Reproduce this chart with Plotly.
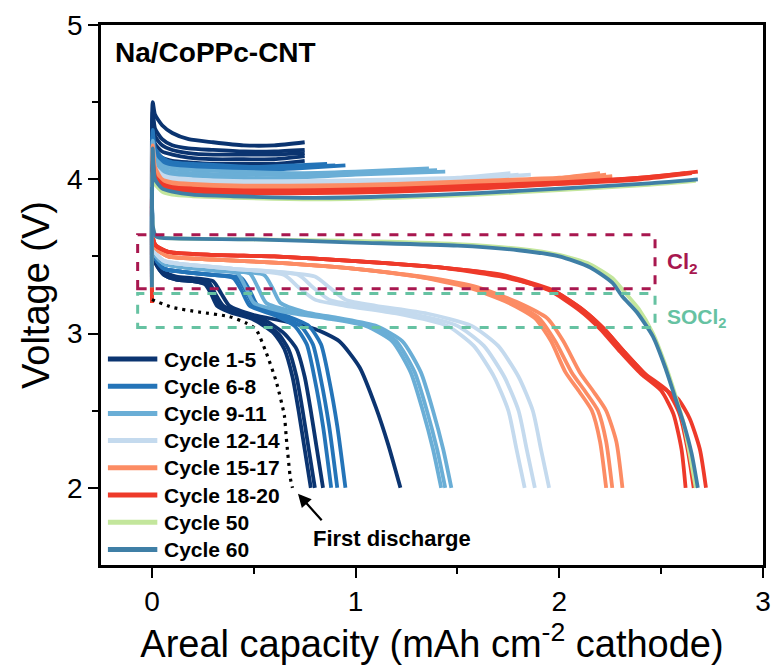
import plotly.graph_objects as go

# ---------------- data ----------------
group_names = ["Cycle 1-5", "Cycle 6-8", "Cycle 9-11", "Cycle 12-14",
               "Cycle 15-17", "Cycle 18-20", "Cycle 50", "Cycle 60"]
group_colors = ["#0b3470", "#2474b8", "#6aaed6", "#c4daee",
                "#fc8c64", "#ee3a2a", "#c3e69c", "#3f7fa6"]

# charge curves (capacity, voltage)
chg_1_5_x = [[0, 0.004, 0.015, 0.05, 0.10, 0.18, 0.30, 0.45, 0.60, 0.75]] * 5
chg_1_5_v = [[3.30, 4.50, 4.42, 4.35, 4.30, 4.26, 4.24, 4.22, 4.22, 4.24],
             [3.30, 4.44, 4.33, 4.26, 4.22, 4.20, 4.19, 4.18, 4.18, 4.19],
             [3.25, 4.40, 4.28, 4.22, 4.19, 4.17, 4.16, 4.16, 4.16, 4.17],
             [3.25, 4.36, 4.23, 4.18, 4.16, 4.14, 4.13, 4.13, 4.13, 4.15],
             [3.20, 4.30, 4.18, 4.14, 4.12, 4.11, 4.10, 4.10, 4.10, 4.12]]

chg_6_8_x = [[0, 0.004, 0.015, 0.05, 0.10, 0.20, 0.35, 0.50, 0.70, 0.86],
             [0, 0.004, 0.015, 0.05, 0.10, 0.20, 0.35, 0.50, 0.70, 0.90],
             [0, 0.004, 0.015, 0.05, 0.10, 0.20, 0.35, 0.50, 0.70, 0.95]]
chg_6_8_v = [[3.20, 4.32, 4.20, 4.14, 4.11, 4.10, 4.09, 4.08, 4.09, 4.10],
             [3.20, 4.28, 4.17, 4.12, 4.10, 4.09, 4.08, 4.07, 4.08, 4.09],
             [3.20, 4.25, 4.15, 4.11, 4.09, 4.08, 4.07, 4.06, 4.07, 4.09]]

chg_9_11_x = [[0, 0.004, 0.015, 0.05, 0.10, 0.20, 0.40, 0.70, 1.00, 1.36],
              [0, 0.004, 0.015, 0.05, 0.10, 0.20, 0.40, 0.70, 1.00, 1.40],
              [0, 0.004, 0.015, 0.05, 0.10, 0.20, 0.40, 0.70, 1.00, 1.44]]
chg_9_11_v = [[3.20, 4.25, 4.14, 4.09, 4.07, 4.06, 4.05, 4.04, 4.05, 4.07],
              [3.20, 4.22, 4.12, 4.07, 4.05, 4.04, 4.03, 4.03, 4.04, 4.06],
              [3.20, 4.20, 4.10, 4.05, 4.03, 4.02, 4.01, 4.01, 4.03, 4.05]]

chg_12_14_x = [[0, 0.004, 0.015, 0.05, 0.10, 0.20, 0.40, 0.80, 1.20, 1.50, 1.76],
               [0, 0.004, 0.015, 0.05, 0.10, 0.20, 0.40, 0.80, 1.20, 1.50, 1.80],
               [0, 0.004, 0.015, 0.05, 0.10, 0.20, 0.40, 0.80, 1.20, 1.50, 1.86]]
chg_12_14_v = [[3.20, 4.20, 4.08, 4.03, 4.01, 4.00, 3.99, 3.99, 4.00, 4.01, 4.04],
               [3.20, 4.18, 4.06, 4.02, 4.00, 3.99, 3.98, 3.98, 3.99, 4.00, 4.03],
               [3.20, 4.16, 4.05, 4.01, 3.99, 3.98, 3.97, 3.97, 3.98, 4.00, 4.03]]

chg_15_17_x = [[0, 0.004, 0.015, 0.05, 0.10, 0.20, 0.40, 0.80, 1.20, 1.60, 2.00, 2.20],
               [0, 0.004, 0.015, 0.05, 0.10, 0.20, 0.40, 0.80, 1.20, 1.60, 2.00, 2.23],
               [0, 0.004, 0.015, 0.05, 0.10, 0.20, 0.40, 0.80, 1.20, 1.60, 2.00, 2.26]]
chg_15_17_v = [[3.20, 4.22, 4.08, 4.00, 3.98, 3.97, 3.96, 3.96, 3.97, 3.99, 4.01, 4.04],
               [3.20, 4.18, 4.05, 3.99, 3.97, 3.96, 3.95, 3.95, 3.96, 3.98, 4.00, 4.03],
               [3.20, 4.15, 4.03, 3.98, 3.96, 3.95, 3.94, 3.94, 3.95, 3.97, 3.99, 4.02]]

chg_18_20_x = [[0, 0.004, 0.015, 0.05, 0.10, 0.20, 0.40, 0.80, 1.20, 1.60, 2.00, 2.40, 2.62],
               [0, 0.004, 0.015, 0.05, 0.10, 0.20, 0.40, 0.80, 1.20, 1.60, 2.00, 2.40, 2.65],
               [0, 0.004, 0.015, 0.05, 0.10, 0.20, 0.40, 0.80, 1.20, 1.60, 2.00, 2.40, 2.68]]
chg_18_20_v = [[3.20, 4.12, 4.02, 3.97, 3.95, 3.94, 3.93, 3.93, 3.94, 3.96, 3.98, 4.01, 4.04],
               [3.20, 4.10, 4.00, 3.96, 3.94, 3.93, 3.92, 3.92, 3.93, 3.95, 3.97, 4.00, 4.04],
               [3.20, 4.08, 3.99, 3.95, 3.93, 3.92, 3.91, 3.91, 3.92, 3.94, 3.97, 4.01, 4.05]]

chg_50_x = [[0, 0.004, 0.015, 0.05, 0.10, 0.20, 0.40, 0.80, 1.20, 1.60, 2.00, 2.40, 2.67]]
chg_50_v = [[3.30, 4.05, 3.97, 3.92, 3.90, 3.89, 3.88, 3.87, 3.88, 3.90, 3.93, 3.96, 3.99]]
chg_60_x = [[0, 0.004, 0.015, 0.05, 0.10, 0.20, 0.40, 0.80, 1.20, 1.60, 2.00, 2.40, 2.68]]
chg_60_v = [[3.30, 4.20, 4.00, 3.94, 3.92, 3.90, 3.89, 3.88, 3.89, 3.91, 3.94, 3.97, 4.00]]

# discharge curves (capacity, voltage)
dis_1_5_x = [[0, 0.004, 0.02, 0.06, 0.12, 0.20, 0.26, 0.29, 0.32, 0.38, 0.50, 0.60, 0.65, 0.69, 0.72, 0.75, 0.78],
             [0, 0.004, 0.02, 0.06, 0.12, 0.20, 0.27, 0.30, 0.33, 0.40, 0.52, 0.62, 0.67, 0.71, 0.74, 0.77, 0.80],
             [0, 0.004, 0.02, 0.06, 0.12, 0.20, 0.28, 0.31, 0.35, 0.42, 0.55, 0.65, 0.71, 0.75, 0.78, 0.81, 0.84],
             [0, 0.004, 0.02, 0.06, 0.12, 0.20, 0.30, 0.34, 0.38, 0.50, 0.65, 0.80, 0.92, 1.02, 1.10, 1.16, 1.22]]
dis_1_5_v = [[3.95, 3.62, 3.45, 3.38, 3.35, 3.34, 3.32, 3.26, 3.18, 3.14, 3.09, 3.00, 2.90, 2.72, 2.50, 2.25, 2.00],
             [3.95, 3.62, 3.45, 3.38, 3.35, 3.34, 3.32, 3.26, 3.18, 3.14, 3.09, 3.00, 2.90, 2.72, 2.50, 2.25, 2.00],
             [3.95, 3.62, 3.46, 3.39, 3.36, 3.35, 3.33, 3.26, 3.18, 3.14, 3.09, 3.00, 2.90, 2.72, 2.50, 2.25, 2.00],
             [3.95, 3.62, 3.46, 3.40, 3.37, 3.36, 3.34, 3.26, 3.18, 3.12, 3.08, 3.03, 2.95, 2.78, 2.52, 2.28, 2.00]]

dis_6_8_x = [[0, 0.004, 0.02, 0.06, 0.15, 0.30, 0.40, 0.44, 0.48, 0.60, 0.70, 0.76, 0.80, 0.84, 0.88],
             [0, 0.004, 0.02, 0.06, 0.15, 0.30, 0.42, 0.46, 0.50, 0.62, 0.73, 0.79, 0.83, 0.87, 0.91],
             [0, 0.004, 0.02, 0.06, 0.15, 0.30, 0.44, 0.48, 0.52, 0.65, 0.77, 0.83, 0.87, 0.91, 0.95]]
dis_6_8_v = [[3.95, 3.65, 3.48, 3.42, 3.40, 3.38, 3.36, 3.28, 3.18, 3.12, 3.05, 2.93, 2.70, 2.40, 2.00],
             [3.95, 3.65, 3.48, 3.42, 3.40, 3.38, 3.36, 3.28, 3.18, 3.12, 3.05, 2.93, 2.70, 2.40, 2.00],
             [3.95, 3.65, 3.48, 3.42, 3.40, 3.38, 3.36, 3.28, 3.18, 3.12, 3.05, 2.93, 2.70, 2.40, 2.00]]

dis_9_11_x = [[0, 0.004, 0.02, 0.06, 0.15, 0.30, 0.42, 0.46, 0.50, 0.65, 0.85, 1.05, 1.18, 1.27, 1.33, 1.38, 1.42],
              [0, 0.004, 0.02, 0.06, 0.15, 0.30, 0.48, 0.52, 0.56, 0.70, 0.88, 1.07, 1.20, 1.29, 1.35, 1.40, 1.44],
              [0, 0.004, 0.02, 0.06, 0.15, 0.30, 0.55, 0.59, 0.63, 0.75, 0.92, 1.10, 1.23, 1.32, 1.38, 1.43, 1.47]]
dis_9_11_v = [[3.95, 3.65, 3.50, 3.45, 3.43, 3.41, 3.39, 3.30, 3.20, 3.14, 3.10, 3.05, 2.95, 2.75, 2.50, 2.25, 2.00],
              [3.95, 3.65, 3.50, 3.45, 3.43, 3.41, 3.39, 3.30, 3.20, 3.14, 3.10, 3.05, 2.95, 2.75, 2.50, 2.25, 2.00],
              [3.95, 3.65, 3.50, 3.45, 3.43, 3.41, 3.38, 3.30, 3.20, 3.14, 3.10, 3.05, 2.95, 2.75, 2.50, 2.25, 2.00]]

dis_12_14_x = [[0, 0.004, 0.02, 0.06, 0.15, 0.40, 0.65, 0.72, 0.80, 0.95, 1.20, 1.45, 1.58, 1.68, 1.75, 1.79, 1.83],
               [0, 0.004, 0.02, 0.06, 0.15, 0.40, 0.72, 0.79, 0.87, 1.02, 1.27, 1.50, 1.63, 1.73, 1.80, 1.84, 1.88],
               [0, 0.004, 0.02, 0.06, 0.15, 0.40, 0.80, 0.87, 0.95, 1.10, 1.35, 1.57, 1.70, 1.80, 1.87, 1.91, 1.95]]
dis_12_14_v = [[3.95, 3.65, 3.52, 3.47, 3.45, 3.42, 3.38, 3.30, 3.22, 3.18, 3.13, 3.05, 2.92, 2.72, 2.50, 2.25, 2.00],
               [3.95, 3.65, 3.52, 3.47, 3.45, 3.42, 3.38, 3.30, 3.22, 3.18, 3.13, 3.05, 2.92, 2.72, 2.50, 2.25, 2.00],
               [3.95, 3.65, 3.52, 3.47, 3.45, 3.42, 3.37, 3.30, 3.22, 3.18, 3.13, 3.05, 2.92, 2.72, 2.50, 2.25, 2.00]]

dis_15_17_x = [[0, 0.004, 0.02, 0.08, 0.30, 0.60, 1.00, 1.30, 1.55, 1.75, 1.88, 1.96, 2.03, 2.10, 2.16, 2.20, 2.23],
               [0, 0.004, 0.02, 0.08, 0.30, 0.60, 1.00, 1.30, 1.57, 1.77, 1.90, 1.98, 2.06, 2.13, 2.19, 2.23, 2.26],
               [0, 0.004, 0.02, 0.08, 0.30, 0.60, 1.00, 1.32, 1.60, 1.80, 1.94, 2.02, 2.10, 2.17, 2.23, 2.28, 2.31]]
dis_15_17_v = [[3.90, 3.62, 3.55, 3.50, 3.48, 3.46, 3.42, 3.37, 3.30, 3.20, 3.10, 2.95, 2.75, 2.62, 2.50, 2.30, 2.00],
               [3.90, 3.62, 3.55, 3.50, 3.48, 3.46, 3.42, 3.37, 3.30, 3.20, 3.10, 2.95, 2.75, 2.62, 2.50, 2.30, 2.00],
               [3.90, 3.62, 3.55, 3.50, 3.48, 3.46, 3.42, 3.37, 3.30, 3.20, 3.10, 2.95, 2.75, 2.62, 2.50, 2.30, 2.00]]

dis_18_20_x = [[0, 0.004, 0.02, 0.08, 0.30, 0.60, 1.00, 1.40, 1.70, 1.95, 2.10, 2.20, 2.30, 2.40, 2.50, 2.56, 2.60, 2.62],
               [0, 0.004, 0.02, 0.08, 0.30, 0.60, 1.00, 1.40, 1.72, 1.97, 2.12, 2.22, 2.32, 2.42, 2.53, 2.59, 2.63, 2.66],
               [0, 0.004, 0.02, 0.08, 0.30, 0.60, 1.00, 1.40, 1.75, 1.98, 2.12, 2.22, 2.32, 2.45, 2.58, 2.64, 2.69, 2.72]]
dis_18_20_v = [[3.90, 3.62, 3.57, 3.53, 3.51, 3.50, 3.47, 3.43, 3.38, 3.28, 3.15, 3.03, 2.88, 2.74, 2.63, 2.48, 2.25, 2.00],
               [3.90, 3.62, 3.57, 3.53, 3.51, 3.50, 3.47, 3.43, 3.38, 3.28, 3.15, 3.03, 2.88, 2.74, 2.63, 2.48, 2.25, 2.00],
               [3.90, 3.62, 3.57, 3.53, 3.51, 3.50, 3.47, 3.43, 3.36, 3.27, 3.15, 3.03, 2.88, 2.70, 2.58, 2.45, 2.25, 2.00]]

dis_50_x = [[0, 0.004, 0.02, 0.05, 0.50, 1.00, 1.50, 1.80, 2.00, 2.15, 2.26, 2.32, 2.39, 2.46, 2.52, 2.57, 2.61, 2.64, 2.67]]
dis_50_v = [[3.95, 3.70, 3.63, 3.62, 3.61, 3.60, 3.58, 3.55, 3.51, 3.45, 3.36, 3.27, 3.16, 3.00, 2.80, 2.60, 2.42, 2.22, 2.00]]
dis_60_x = [[0, 0.004, 0.02, 0.05, 0.50, 1.00, 1.50, 1.80, 2.00, 2.15, 2.26, 2.31, 2.38, 2.46, 2.52, 2.57, 2.61, 2.65, 2.68]]
dis_60_v = [[3.95, 3.70, 3.63, 3.62, 3.61, 3.59, 3.57, 3.54, 3.50, 3.43, 3.33, 3.24, 3.14, 2.98, 2.78, 2.58, 2.42, 2.22, 2.00]]

# first discharge (dotted)
first_x = [0, 0.10, 0.23, 0.38, 0.46, 0.51, 0.56, 0.61, 0.65, 0.66, 0.68, 0.69]
first_v = [3.22, 3.17, 3.14, 3.11, 3.07, 3.03, 2.88, 2.69, 2.47, 2.32, 2.06, 2.00]

# boxes: [x0, x1, y0, y1]
cl2_box = [-0.07, 2.47, 3.29, 3.64]
socl2_box = [-0.07, 2.47, 3.04, 3.26]

# ---------------- figure ----------------
W, H = 780, 670
ML, MR, MT, MB = 101, 9, 25, 105
PW, PH = W - ML - MR, H - MT - MB


def px_to_paper(px, py):
    return (px - ML) / PW, 1 - (py - MT) / PH


fig = go.Figure()

groups = [
    (chg_1_5_x, chg_1_5_v, dis_1_5_x, dis_1_5_v),
    (chg_6_8_x, chg_6_8_v, dis_6_8_x, dis_6_8_v),
    (chg_9_11_x, chg_9_11_v, dis_9_11_x, dis_9_11_v),
    (chg_12_14_x, chg_12_14_v, dis_12_14_x, dis_12_14_v),
    (chg_15_17_x, chg_15_17_v, dis_15_17_x, dis_15_17_v),
    (chg_18_20_x, chg_18_20_v, dis_18_20_x, dis_18_20_v),
    (chg_50_x, chg_50_v, dis_50_x, dis_50_v),
    (chg_60_x, chg_60_v, dis_60_x, dis_60_v),
]

for gi, (cx, cv, dx, dv) in enumerate(groups):
    for xs, vs in list(zip(cx, cv)) + list(zip(dx, dv)):
        fig.add_trace(go.Scatter(
            x=xs, y=vs, mode="lines",
            line=dict(color=group_colors[gi], width=3.8, shape="spline", smoothing=0.6),
            name=group_names[gi], legendgroup=group_names[gi],
            showlegend=False, hoverinfo="skip"))

fig.add_trace(go.Scatter(
    x=first_x, y=first_v, mode="lines",
    line=dict(color="black", width=3.2, dash="3px,5px", shape="spline", smoothing=0.6),
    name="First discharge", showlegend=False, hoverinfo="skip"))

# dashed boxes
fig.add_shape(type="rect", x0=cl2_box[0], x1=cl2_box[1], y0=cl2_box[2], y1=cl2_box[3],
              line=dict(color="#a8174f", width=3, dash="dash"), layer="above")
fig.add_shape(type="rect", x0=socl2_box[0], x1=socl2_box[1], y0=socl2_box[2], y1=socl2_box[3],
              line=dict(color="#66c2a2", width=3, dash="dash"), layer="above")

fig.add_annotation(x=2.52, y=3.46, text="Cl<sub>2</sub>", showarrow=False, xanchor="left",
                   font=dict(family="Liberation Sans", size=22, color="#a8174f", weight="bold"))
fig.add_annotation(x=2.52, y=3.10, text="SOCl<sub>2</sub>", showarrow=False, xanchor="left",
                   font=dict(family="Liberation Sans", size=21, color="#66c2a2", weight="bold"))

tx0, ty0 = px_to_paper(113, 52)
fig.add_annotation(xref="paper", yref="paper", x=tx0, y=ty0, xanchor="left", yanchor="middle",
                   text="Na/CoPPc-CNT", showarrow=False,
                   font=dict(family="Liberation Sans", size=28, color="black", weight="bold"))

fig.add_annotation(x=0.717, y=1.962, ax=0.84, ay=1.78, xref="x", yref="y", axref="x", ayref="y",
                   showarrow=True, arrowhead=2, arrowsize=1.2, arrowwidth=2.2, arrowcolor="black",
                   text="")
fig.add_annotation(x=1.18, y=1.67, text="First discharge", showarrow=False,
                   font=dict(family="Liberation Sans", size=22, color="black", weight="bold"))

# legend (drawn as key lines + text labels)
legend_top_py, legend_step_py = 359, 27.2
for gi, name in enumerate(group_names):
    py = legend_top_py + gi * legend_step_py
    x0, y0 = px_to_paper(108, py)
    x1, _ = px_to_paper(158, py)
    fig.add_shape(type="line", xref="paper", yref="paper", x0=x0, x1=x1, y0=y0, y1=y0,
                  line=dict(color=group_colors[gi], width=5))
    tx, ty = px_to_paper(163, py)
    fig.add_annotation(xref="paper", yref="paper", x=tx, y=ty, xanchor="left", yanchor="middle",
                       text=name, showarrow=False,
                       font=dict(family="Liberation Sans", size=21, color="black", weight="bold"))

axis_common = dict(showline=True, linecolor="black", linewidth=2.5, mirror=True,
                   ticks="outside", ticklen=10, tickwidth=2.2, tickcolor="black",
                   showgrid=False, zeroline=False,
                   tickfont=dict(family="Liberation Sans", size=28, color="black"),
                   title_font=dict(family="Liberation Sans", size=38, color="black"))

fig.update_xaxes(range=[-0.25, 3], tickvals=[0, 1, 2, 3],
                 minor=dict(tickvals=[0.5, 1.5, 2.5], ticks="outside", ticklen=6, tickwidth=2.2, tickcolor="black"),
                 title_text="Areal capacity (mAh cm<sup>-2</sup> cathode)", title_standoff=4,
                 **axis_common)
fig.update_yaxes(range=[1.5, 5], tickvals=[2, 3, 4, 5],
                 minor=dict(tickvals=[2.5, 3.5, 4.5], ticks="outside", ticklen=6, tickwidth=2.2, tickcolor="black"),
                 title_text="Voltage (V)", title_standoff=6,
                 **axis_common)

fig.update_layout(
    width=W, height=H,
    margin=dict(l=ML, r=MR, t=MT, b=MB),
    plot_bgcolor="white", paper_bgcolor="white",
    showlegend=False,
)

fig.write_html("out.html")
